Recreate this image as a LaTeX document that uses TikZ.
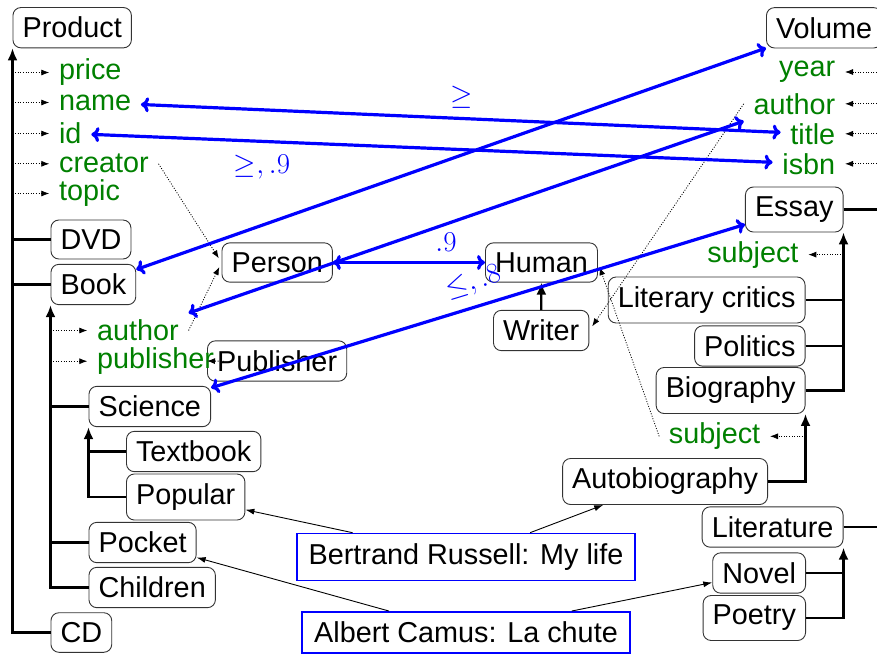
\documentclass[tikz,border=0pt]{standalone}
\usepackage{fix-cm}
\usepackage{fontspec}
\setmainfont{Liberation Sans}
\usetikzlibrary{arrows.meta}
\definecolor{attrgreen}{rgb}{0,0.5,0}
\begin{document}
\begin{tikzpicture}[x=1pt,y=-1pt,
  font=\fontsize{28.8}{34}\selectfont,
  cls/.style={draw=black!80, line width=0.9pt, rounded corners=8pt, inner sep=9.6pt},
  inst/.style={draw=blue, line width=1.8pt, inner xsep=12pt, inner ysep=10pt},
  attr/.style={text=attrgreen, inner sep=9.6pt},
  mlabel/.style={text=blue, inner sep=0pt},
  tree/.style={line width=2.2pt},
  treearrow/.style={line width=2.2pt, -{Latex[length=12pt,width=10pt]}},
  dotarrow/.style={line width=0.8pt, dash pattern=on 1pt off 1.6pt, -{Latex[length=8pt,width=6pt]}},
  instarrow/.style={line width=0.9pt, -{Latex[length=9pt,width=6pt]}},
  match/.style={draw=blue, line width=3.2pt, {Computer Modern Rightarrow[length=8pt,width=15pt]}-{Computer Modern Rightarrow[length=8pt,width=15pt]}},
]
\useasboundingbox (0,0) rectangle (877,654);

% classes, left
\node[cls, anchor=west] (Product) at (12.5,27.7) {Product};
\node[cls, anchor=west] (DVD) at (50.5,239.5) {DVD};
\node[cls, anchor=west] (Book) at (50.5,284.5) {Book};
\node[cls, anchor=west] (Science) at (88.5,406.5) {Science};
\node[cls, anchor=west] (Textbook) at (126,451.5) {Textbook};
\node[cls, anchor=west] (Popular) at (126,497) {Popular};
\node[cls, anchor=west] (Pocket) at (88.5,542.5) {Pocket};
\node[cls, anchor=west] (Children) at (88.5,587.5) {Children};
\node[cls, anchor=west] (CD) at (50.5,632.5) {CD};
% middle
\node[cls, anchor=west] (Person) at (221.5,262.5) {Person};
\node[cls, anchor=west] (Human) at (485,262.5) {Human};
\node[cls, anchor=west] (Writer) at (493,330.5) {Writer};
\node[cls, anchor=west] (Publisher) at (207,361) {Publisher};
% right
\node[cls, anchor=west] (Volume) at (766,27.8) {Volume};
\node[cls, anchor=east] (Essay) at (843.5,209.5) {Essay};
\node[cls, anchor=east] (Critics) at (805.5,300) {Literary critics};
\node[cls, anchor=east] (Politics) at (805.5,346) {Politics};
\node[cls, anchor=east] (Biography) at (805.5,390.5) {Biography};
\node[cls, anchor=east] (Autobiography) at (768,481.5) {Autobiography};
\node[cls, anchor=east] (Literature) at (843.5,527) {Literature};
\node[cls, anchor=east] (Novel) at (806,573) {Novel};
\node[cls, anchor=east] (Poetry) at (806,618) {Poetry};
% instances
\node[inst] (Russell) at (466,557) {Bertrand Russell: My life};
\node[inst] (Camus) at (466,632.5) {Albert Camus: La chute};

% attributes
\node[attr, anchor=west] (price) at (49.3,72.5) {price};
\node[attr, anchor=west] (name) at (49.3,102.5) {name};
\node[attr, anchor=west] (id) at (49.3,133.5) {id};
\node[attr, anchor=west] (creator) at (49.3,163.8) {creator};
\node[attr, anchor=west] (topic) at (49.3,193.5) {topic};
\node[attr, anchor=west] (bauthor) at (87.3,330.5) {author};
\node[attr, anchor=west] (publisher) at (87.3,361.2) {publisher};
\node[attr, anchor=east] (year) at (845,72) {year};
\node[attr, anchor=east] (vauthor) at (845,103.8) {author};
\node[attr, anchor=east] (title) at (845,133.8) {title};
\node[attr, anchor=east] (isbn) at (845,163.8) {isbn};
\node[attr, anchor=east] (subj1) at (808.3,254.6) {subject};
\node[attr, anchor=east] (subj2) at (770,436.3) {subject};

% tree, left
\draw[treearrow] (CD.west) -| (Product.south west);
\draw[tree] (DVD.west) -- (DVD.west -| Product.south west);
\draw[tree] (Book.west) -- (Book.west -| Product.south west);
\draw[treearrow] (Children.west) -| (Book.south west);
\draw[tree] (Science.west) -- (Science.west -| Book.south west);
\draw[tree] (Pocket.west) -- (Pocket.west -| Book.south west);
\draw[treearrow] (Popular.west) -| (Science.south west);
\draw[tree] (Textbook.west) -- (Textbook.west -| Science.south west);
\draw[treearrow] (Writer) -- (Human);
% tree, right
\draw[treearrow] (Literature.east) -| (Volume.south east);
\draw[tree] (Essay.east) -- (Essay.east -| Volume.south east);
\draw[treearrow] (Biography.east) -| (Essay.south east);
\draw[tree] (Critics.east) -- (Critics.east -| Essay.south east);
\draw[tree] (Politics.east) -- (Politics.east -| Essay.south east);
\draw[treearrow] (Autobiography.east) -| (Biography.south east);
\draw[treearrow] (Poetry.east) -| (Literature.south east);
\draw[tree] (Novel.east) -- (Novel.east -| Literature.south east);

% attribute arrows
\foreach \a in {price,name,id,creator,topic}
  \draw[dotarrow] (\a.west -| Product.south west) -- (\a.west);
\foreach \a in {bauthor,publisher}
  \draw[dotarrow] (\a.west -| Book.south west) -- (\a.west);
\foreach \a in {year,vauthor,title,isbn}
  \draw[dotarrow] (\a.east -| Volume.south east) -- (\a.east);
\draw[dotarrow] (subj1.east -| Essay.south east) -- (subj1.east);
\draw[dotarrow] (subj2.east -| Biography.south east) -- (subj2.east);

% range arrows
\draw[dotarrow, shorten >=5pt] (creator.east) -- (Person.west);
\draw[dotarrow, shorten >=5pt] (bauthor.east) -- (Person.west);
\draw[dotarrow] (publisher.east) -- (Publisher.west);
\draw[dotarrow, shorten >=5pt] (vauthor.west) -- (Writer.east);
\draw[dotarrow, shorten >=5pt] (subj2.west) -- (Human.east);

% instance arrows
\draw[instarrow] (Russell) -- (Popular);
\draw[instarrow] (Russell) -- (Autobiography);
\draw[instarrow] (Camus) -- (Pocket);
\draw[instarrow] (Camus) -- (Novel);

% matches
\draw[match] (name) -- (title);
\draw[match] (id) -- (isbn);
\draw[match] (Book) -- (Volume);
\draw[match] (bauthor) -- (vauthor);
\draw[match] (Person) -- (Human);
\draw[match] (Science) -- (Essay);
\node[mlabel] (l1) at (462,97) {$\geq$};
\node[mlabel] (l2) at (262,167) {$\geq, .9$};
\node[mlabel] (l3) at (446,242) {$.9$};
\node[mlabel, rotate=17] (l4) at (473.5,283) {$\leq, .8$};
\end{tikzpicture}
\end{document}
